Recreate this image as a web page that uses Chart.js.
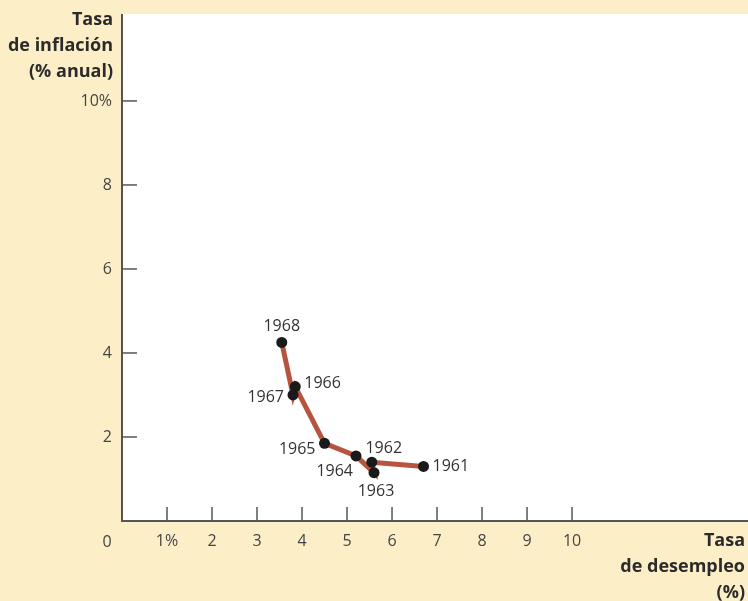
<!DOCTYPE html>
<html>
<head>
<meta charset="utf-8">
<script src="https://cdn.jsdelivr.net/npm/chart.js@4/dist/chart.umd.min.js"></script>
<style>
  html, body { margin: 0; padding: 0; background: #fcefc8; overflow: hidden; }
  #wrap { width: 748px; height: 601px; position: relative; }
  canvas { display: block; }
</style>
</head>
<body>
<div id="wrap"><canvas id="grafico"></canvas></div>
<script>
// datos (curva de Phillips, EE.UU. 1961-1968)
const anios = ["1961", "1962", "1963", "1964", "1965", "1966", "1967", "1968"];
const desempleo = [6.7, 5.55, 5.6, 5.2, 4.5, 3.85, 3.8, 3.55];
const inflacion = [1.3, 1.4, 1.15, 1.55, 1.85, 3.2, 3.0, 4.25];
const ticksX = [1, 2, 3, 4, 5, 6, 7, 8, 9, 10];
const ticksY = [2, 4, 6, 8, 10];

const familia = "'Open Sans', sans-serif";
const fuenteTick = "16px " + familia;
const fuenteTitulo = "bold 18px " + familia;

// dónde va la etiqueta de cada año respecto al punto
const posEtiqueta = {
  "1968": { dx: 0, dy: -16, align: "center" },
  "1966": { dx: 9, dy: -3, align: "left" },
  "1967": { dx: -9, dy: 2, align: "right" },
  "1965": { dx: -9, dy: 6, align: "right" },
  "1964": { dx: -3, dy: 16, align: "right" },
  "1963": { dx: 2, dy: 19, align: "center" },
  "1962": { dx: 12, dy: -14, align: "center" },
  "1961": { dx: 9, dy: 0, align: "left" }
};

const puntos = anios.map((a, i) => ({ x: desempleo[i], y: inflacion[i] }));

const fondoYEjes = {
  id: "fondoYEjes",
  beforeDraw(chart) {
    const { ctx, chartArea: a } = chart;
    ctx.save();
    ctx.fillStyle = "#fcefc8";
    ctx.fillRect(0, 0, chart.width, chart.height);
    ctx.fillStyle = "#ffffff";
    ctx.fillRect(a.left, a.top, a.right - a.left, a.bottom - a.top);
    ctx.restore();
  },
  afterDraw(chart) {
    const { ctx, chartArea: a, scales } = chart;
    ctx.save();
    ctx.strokeStyle = "#555555";
    ctx.lineWidth = 2;
    ctx.beginPath();
    ctx.moveTo(a.left, a.top);
    ctx.lineTo(a.left, a.bottom);
    ctx.lineTo(a.right, a.bottom);
    ctx.stroke();
    ctx.lineWidth = 1.5;
    ticksX.forEach(v => {
      const px = scales.x.getPixelForValue(v);
      ctx.beginPath();
      ctx.moveTo(px, a.bottom);
      ctx.lineTo(px, a.bottom - 14);
      ctx.stroke();
    });
    ticksY.forEach(v => {
      const py = scales.y.getPixelForValue(v);
      ctx.beginPath();
      ctx.moveTo(a.left, py);
      ctx.lineTo(a.left + 15, py);
      ctx.stroke();
    });

    // el cero de la esquina
    ctx.fillStyle = "#444444";
    ctx.font = fuenteTick;
    ctx.textAlign = "center";
    ctx.textBaseline = "middle";
    ctx.fillText("0", a.left - 15, a.bottom + 21);

    // títulos de los ejes
    ctx.fillStyle = "#2b2b2b";
    ctx.font = fuenteTitulo;
    ctx.textAlign = "right";
    ["Tasa", "de inflación", "(% anual)"].forEach((t, i) => {
      ctx.fillText(t, 113, 20 + i * 26);
    });
    ["Tasa", "de desempleo", "(%)"].forEach((t, i) => {
      ctx.fillText(t, 745, 541 + i * 26);
    });

    // etiquetas de los años
    const meta = chart.getDatasetMeta(0);
    ctx.fillStyle = "#333333";
    ctx.font = fuenteTick;
    meta.data.forEach((el, i) => {
      const p = posEtiqueta[anios[i]];
      ctx.textAlign = p.align;
      ctx.fillText(anios[i], el.x + p.dx, el.y + p.dy);
    });
    ctx.restore();
  }
};

new Chart(document.getElementById("grafico"), {
  type: "scatter",
  data: {
    datasets: [{
      data: puntos,
      showLine: true,
      borderColor: "#b75440",
      borderWidth: 5,
      pointRadius: 5.5,
      pointHoverRadius: 5.5,
      pointBackgroundColor: "#1a1a1a",
      pointBorderColor: "#1a1a1a",
      pointBorderWidth: 0,
      tension: 0
    }]
  },
  options: {
    responsive: true,
    maintainAspectRatio: false,
    animation: false,
    layout: { autoPadding: false, padding: { top: 14, right: 0, left: 0, bottom: 0 } },
    plugins: { legend: { display: false }, tooltip: { enabled: false } },
    scales: {
      x: {
        type: "linear",
        min: 0,
        max: 13.91,
        grid: { display: false, drawTicks: false },
        border: { display: false },
        afterBuildTicks: s => { s.ticks = ticksX.map(v => ({ value: v })); },
        afterFit: s => { s.height = 80; s.paddingLeft = 0; s.paddingRight = 0; },
        ticks: {
          color: "#444444",
          font: { family: familia, size: 16 },
          padding: 11,
          maxRotation: 0,
          callback: v => v === 1 ? "1%" : String(v)
        }
      },
      y: {
        type: "linear",
        min: 0,
        max: 12.07,
        grid: { display: false, drawTicks: false },
        border: { display: false },
        afterBuildTicks: s => { s.ticks = ticksY.map(v => ({ value: v })); },
        afterFit: s => { s.width = 122; s.paddingTop = 0; s.paddingBottom = 0; },
        ticks: {
          color: "#444444",
          font: { family: familia, size: 16 },
          padding: 10,
          callback: v => v === 10 ? "10%" : String(v)
        }
      }
    }
  },
  plugins: [fondoYEjes]
});
</script>
</body>
</html>
